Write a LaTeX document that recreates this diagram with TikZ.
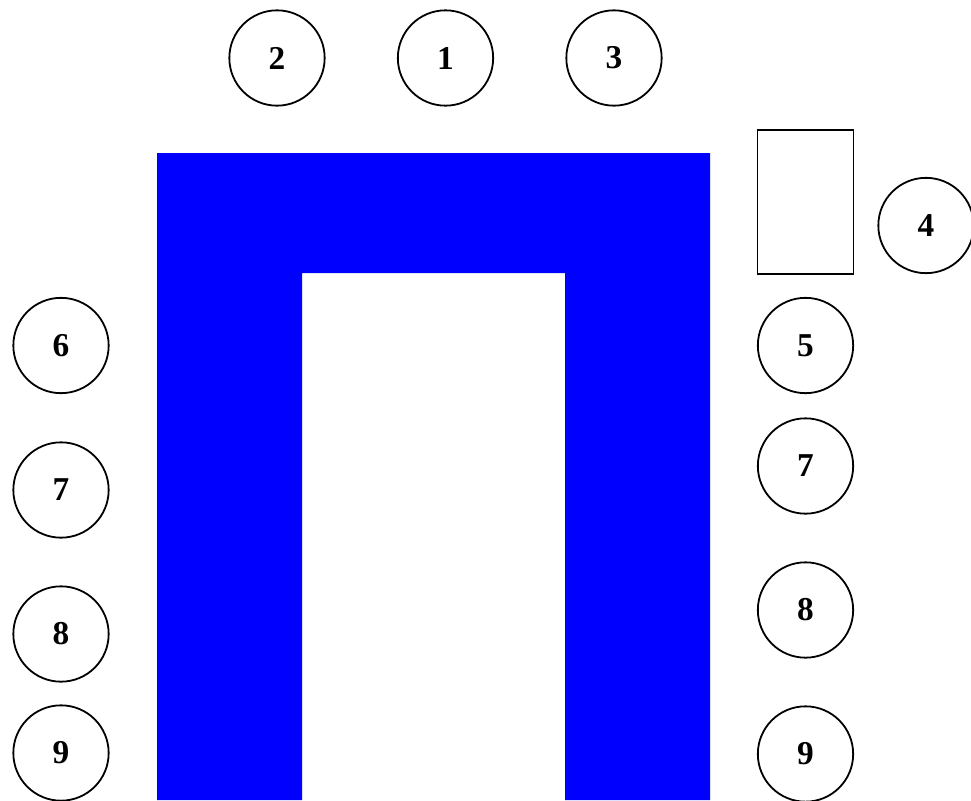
\documentclass[tikz,border=0pt]{standalone}
\usepackage{fontspec}
\setmainfont{Liberation Serif}
\definecolor{ublue}{RGB}{0,0,255}
\tikzset{
  seat/.style={circle,draw=black,line width=1.35pt,minimum size=71.5pt,inner sep=0pt,font=\fontsize{25}{29}\selectfont\bfseries},
  desk/.style={draw=black,line width=1.35pt}
}
\begin{document}
\begin{tikzpicture}[x=0.75pt,y=-0.75pt]
\useasboundingbox (0,0) rectangle (971,800);
\fill[ublue] (157,153) -- (710,153) -- (710,800) -- (565,800) -- (565,273) -- (302,273) -- (302,800) -- (157,800) -- cycle;
\node[seat] (s2) at (277,58) {2};
\node[seat] (s1) at (445.5,58) {1};
\node[seat] (s3) at (614,58) {3};
\node[desk,minimum width=72pt,minimum height=107.5pt,inner sep=0pt] (box) at (805.5,202) {};
\node[seat] (s4) at (926,225.5) {4};
\node[seat] (s5) at (805.5,345.5) {5};
\node[seat] (s7r) at (805.5,466) {7};
\node[seat] (s8r) at (805.5,610) {8};
\node[seat] (s9r) at (805.5,754) {9};
\node[seat] (s6) at (61,345.5) {6};
\node[seat] (s7l) at (61,490) {7};
\node[seat] (s8l) at (61,634) {8};
\node[seat] (s9l) at (61,753) {9};
\end{tikzpicture}
\end{document}
